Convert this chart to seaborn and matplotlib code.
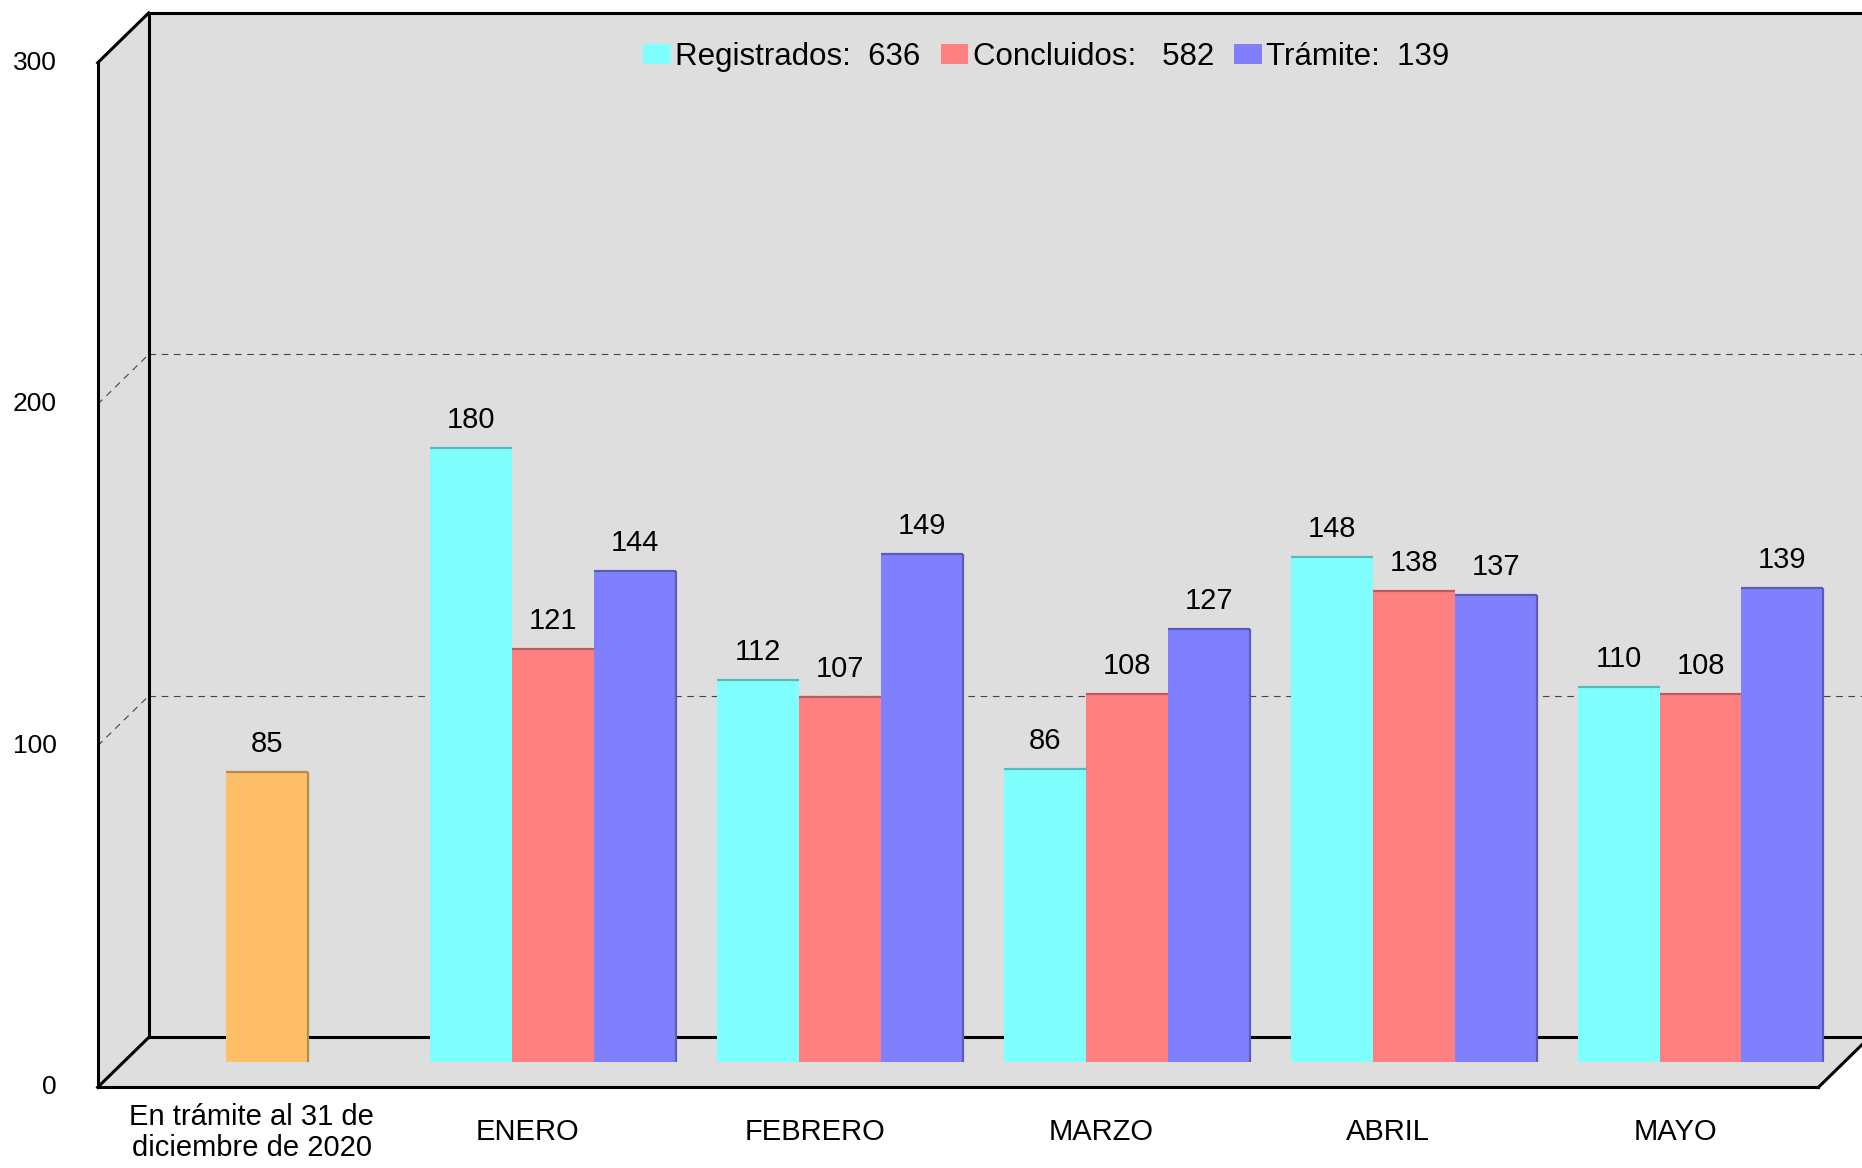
import numpy as np
import pandas as pd
import seaborn as sns
import matplotlib.pyplot as plt
from matplotlib.patches import Patch

# --- data -------------------------------------------------------------
categorias = ["En trámite al 31 de\ndiciembre de 2020", "ENERO", "FEBRERO", "MARZO", "ABRIL", "MAYO"]
meses = ["ENERO", "FEBRERO", "MARZO", "ABRIL", "MAYO"]
registrados = [180, 112, 86, 148, 110]
concluidos = [121, 107, 108, 138, 108]
tramite = [144, 149, 127, 137, 139]
pendientes_2020 = [85]
series = ["Registrados", "Concluidos", "Trámite"]
leyenda = ["Registrados:  636", "Concluidos:   582", "Trámite:  139"]
y_ticks = [0, 100, 200, 300]

colores = ["#80FFFF", "#FF8080", "#8080FF"]
naranja = "#FFBF69"
gris = "#DEDEDE"

df = pd.DataFrame({
    "mes": meses * 3,
    "serie": np.repeat(series, len(meses)),
    "valor": registrados + concluidos + tramite,
})

sns.set_style("white")
plt.rcParams["font.family"] = ["Liberation Sans", "DejaVu Sans"]
plt.rcParams["text.color"] = "black"

fig = plt.figure(figsize=(18.62, 11.68), dpi=100)
ax = fig.add_axes([0, 0, 1, 1])

# pseudo 3D box (bars sit at mid depth)
hx, hy = 0.089, 7.3          # half depth offset in data units
x0, x1 = -0.5, 5.5
ymax = 300
fx0, fx1, fb = x0 - hx, x1 - hx, -hy     # front plane
bx0, bx1, bb = x0 + hx, x1 + hx, hy      # back plane

ax.fill([bx0, bx1, bx1, bx0], [bb, bb, bb + ymax, bb + ymax], color=gris, zorder=0, lw=0)
ax.fill([fx0, bx0, bx0, fx0], [fb, bb, bb + ymax, fb + ymax], color=gris, zorder=0, lw=0)
ax.fill([fx0, fx1, bx1, bx0], [fb, fb, bb, bb], color=gris, zorder=0, lw=0)

for t in y_ticks[1:-1]:
    ax.plot([fx0, bx0], [fb + t, bb + t], color="#444444", lw=0.8, ls=(0, (6, 5)), zorder=0.3)
    ax.plot([bx0, bx1], [bb + t, bb + t], color="#444444", lw=0.8, ls=(0, (6, 5)), zorder=0.3)

edge = dict(color="black", lw=2.2, zorder=0.5, solid_capstyle="projecting")
ax.plot([fx0, fx0], [fb, fb + ymax], **edge)
ax.plot([bx0, bx0], [bb, bb + ymax], **edge)
ax.plot([fx0, bx0], [fb + ymax, bb + ymax], **edge)
ax.plot([fx0, bx0], [fb, bb], **edge)
ax.plot([bx0, bx1], [bb + ymax, bb + ymax], **edge)
ax.plot([bx0, bx1], [bb, bb], **edge)
ax.plot([fx0, fx1], [fb, fb], **edge)
ax.plot([fx1, bx1], [fb, bb], **edge)

# bars
sns.barplot(data=df, x="mes", y="valor", hue="serie", order=categorias,
            hue_order=series, palette=colores, width=0.857, saturation=1,
            errorbar=None, legend=False, ax=ax, zorder=2, linewidth=0, edgecolor="none")
sns.barplot(x=categorias[:1], y=pendientes_2020, order=categorias, color=naranja,
            width=0.286, saturation=1, errorbar=None, ax=ax, zorder=2,
            linewidth=0, edgecolor="none")

# 3D-ish caps and value labels
for i, cont in enumerate(ax.containers):
    for p in cont:
        if np.isnan(p.get_height()):
            continue
        x, w, h = p.get_x(), p.get_width(), p.get_height()
        fc = np.array(p.get_facecolor()[:3]) * 0.72
        ax.plot([x, x + w], [h, h], color=fc, lw=1.6, zorder=2.5, solid_capstyle="butt")
        if i >= 2:
            ax.plot([x + w, x + w], [0, h], color=fc, lw=1.6, zorder=2.5, solid_capstyle="butt")
    ax.bar_label(cont, labels=[f"{v:.0f}" if not np.isnan(v) else "" for v in cont.datavalues],
                 padding=10, fontsize=21, color="black")

# axis text
for t in y_ticks:
    ax.text(-0.731, t - hy, str(t), ha="right", va="center", fontsize=19)
for i, c in enumerate(categorias):
    dx = 0.037 if "\n" in c else 0.0
    ax.text(i - hx + dx, -20.5, c, ha="center", va="center", fontsize=21, linespacing=1.15)

handles = [Patch(facecolor=c, edgecolor="none") for c in colores]
ax.legend(handles, leyenda, loc="center", bbox_to_anchor=(0.562, 0.951),
          bbox_transform=fig.transFigure, frameon=False, ncol=3, fontsize=22.5,
          handlelength=0.87, handleheight=0.6, handletextpad=0.15, columnspacing=0.65)

ax.set_xlim(-0.9296, 5.5631)
ax.set_ylim(-30.93, 311.08)
ax.axis("off")

fig.savefig("out.png", dpi=100, facecolor="white")
